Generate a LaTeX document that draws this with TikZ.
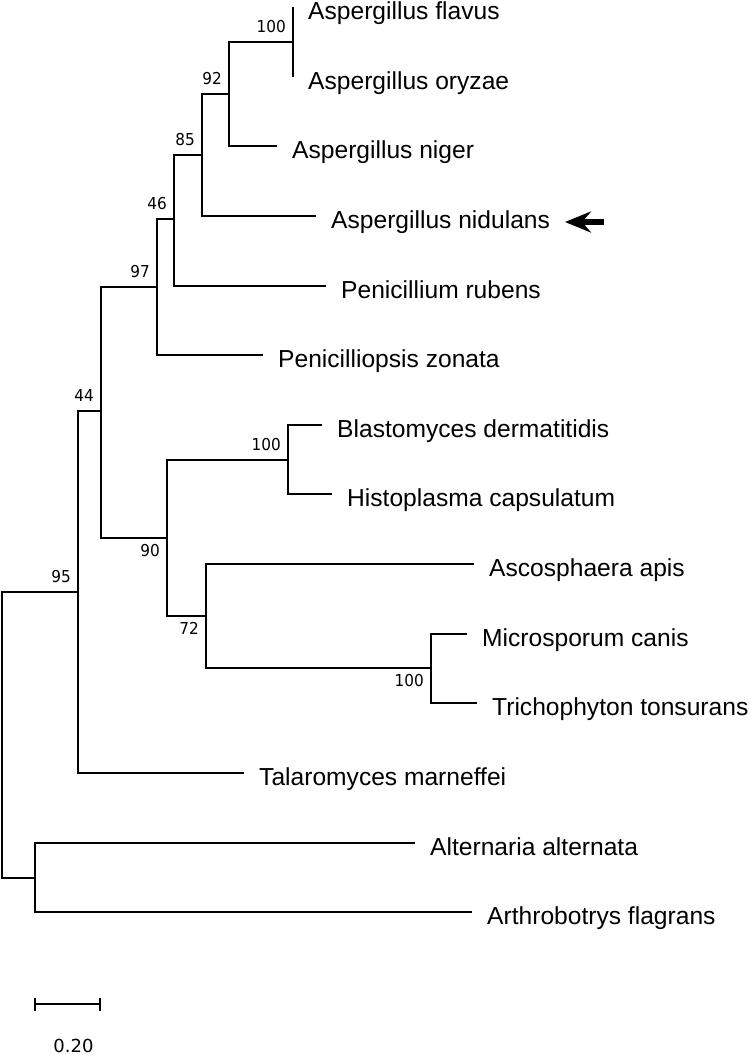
\documentclass[tikz,border=0pt]{standalone}
\usepackage{fontspec}
\setmainfont{Liberation Sans}
\newfontfamily\bootfont[FakeStretch=0.93]{DejaVu Sans}
\newfontfamily\scalefont{DejaVu Sans}
\usetikzlibrary{arrows.meta}

\tikzset{
  branch/.style={line width=1.6pt},
  taxon/.style={anchor=base west, inner sep=0pt, xshift=15pt, yshift=-12pt,
    font=\fontsize{24.6pt}{29pt}\selectfont},
  bootup/.style={anchor=base east, inner sep=0pt, xshift=-7pt, yshift=10pt,
    font=\bootfont\fontsize{16.4pt}{19pt}\selectfont},
  bootdown/.style={bootup, yshift=-28pt},
  pointer/.style={line width=5.5pt, -{Stealth[length=26pt, width=21pt, inset=9pt]}}
}

\begin{document}
\begin{tikzpicture}[x=1pt, y=-1pt]

  \useasboundingbox (0,0) rectangle (750,1055);

  % -- Leaves --
  \coordinate (aflav) at (293,7);
  \coordinate (aoryz) at (293,77);
  \coordinate (anig)  at (277,146);
  \coordinate (anid)  at (316,216);
  \coordinate (prub)  at (326,286);
  \coordinate (pzon)  at (263,355);
  \coordinate (bder)  at (322,425);
  \coordinate (hcap)  at (332,494);
  \coordinate (aapi)  at (474,564);
  \coordinate (mcan)  at (467,634);
  \coordinate (tton)  at (477,703);
  \coordinate (tmar)  at (244,773);
  \coordinate (aalt)  at (415,843);
  \coordinate (aflag) at (472,912);

  % -- Internal nodes --
  \coordinate (cFlavOry) at (293,42);
  \coordinate (cAsp92)   at (229,94);
  \coordinate (cAsp85)   at (202,155);
  \coordinate (cAsp46)   at (174,219);
  \coordinate (cPen97)   at (157,287);
  \coordinate (cBlHi)    at (288,460);
  \coordinate (cMcTt)    at (431,668);
  \coordinate (cOny72)   at (206,616);
  \coordinate (cOny90)   at (167,538);
  \coordinate (cEur44)   at (101,411);
  \coordinate (cEur95)   at (78,592);
  \coordinate (cOut)     at (35,878);
  \coordinate (root)     at (2,735);

  % -- Branches --
  \draw[branch] (root) |- (cEur95);
  \draw[branch] (root) |- (cOut);
  \draw[branch] (cEur95) |- (cEur44);
  \draw[branch] (cEur95) |- (tmar);
  \draw[branch] (cEur44) |- (cPen97);
  \draw[branch] (cEur44) |- (cOny90);
  \draw[branch] (cPen97) |- (cAsp46);
  \draw[branch] (cPen97) |- (pzon);
  \draw[branch] (cAsp46) |- (cAsp85);
  \draw[branch] (cAsp46) |- (prub);
  \draw[branch] (cAsp85) |- (cAsp92);
  \draw[branch] (cAsp85) |- (anid);
  \draw[branch] (cAsp92) |- (cFlavOry);
  \draw[branch] (cAsp92) |- (anig);
  \draw[branch] (cFlavOry) -- (aflav);
  \draw[branch] (cFlavOry) -- (aoryz);
  \draw[branch] (cOny90) |- (cBlHi);
  \draw[branch] (cOny90) |- (cOny72);
  \draw[branch] (cBlHi) |- (bder);
  \draw[branch] (cBlHi) |- (hcap);
  \draw[branch] (cOny72) |- (aapi);
  \draw[branch] (cOny72) |- (cMcTt);
  \draw[branch] (cMcTt) |- (mcan);
  \draw[branch] (cMcTt) |- (tton);
  \draw[branch] (cOut) |- (aalt);
  \draw[branch] (cOut) |- (aflag);

  % -- Taxa --
  \node[taxon] (taflav) at (aflav) {Aspergillus flavus};
  \node[taxon] (taoryz) at (aoryz) {Aspergillus oryzae};
  \node[taxon] (tanig)  at (anig)  {Aspergillus niger};
  \node[taxon] (tanid)  at (anid)  {Aspergillus nidulans};
  \node[taxon] (tprub)  at (prub)  {Penicillium rubens};
  \node[taxon] (tpzon)  at (pzon)  {Penicilliopsis zonata};
  \node[taxon] (tbder)  at (bder)  {Blastomyces dermatitidis};
  \node[taxon] (thcap)  at (hcap)  {Histoplasma capsulatum};
  \node[taxon] (taapi)  at (aapi)  {Ascosphaera apis};
  \node[taxon] (tmcan)  at (mcan)  {Microsporum canis};
  \node[taxon] (ttton)  at (tton)  {Trichophyton tonsurans};
  \node[taxon] (ttmar)  at (tmar)  {Talaromyces marneffei};
  \node[taxon] (taalt)  at (aalt)  {Alternaria alternata};
  \node[taxon] (taflag) at (aflag) {Arthrobotrys flagrans};

  % -- Bootstrap values --
  \node[bootup] (bFlavOry) at (cFlavOry) {100};
  \node[bootup] (bAsp92)   at (cAsp92)   {92};
  \node[bootup] (bAsp85)   at (cAsp85)   {85};
  \node[bootup] (bAsp46)   at (cAsp46)   {46};
  \node[bootup] (bPen97)   at (cPen97)   {97};
  \node[bootup] (bEur44)   at (cEur44)   {44};
  \node[bootup] (bEur95)   at (cEur95)   {95};
  \node[bootup] (bBlHi)    at (cBlHi)    {100};
  \node[bootdown] (bOny90) at (cOny90)   {90};
  \node[bootdown] (bOny72) at (cOny72)   {72};
  \node[bootdown] (bMcTt)  at (cMcTt)    {100};

  % -- Marker for A. nidulans --
  \coordinate (arrtail) at (604,222);
  \coordinate (arrtip)  at (565,222);
  \draw[pointer] (arrtail) -- (arrtip);

  % -- Scale bar --
  \coordinate (sb0) at (35,1004);
  \coordinate (sb1) at (100,1004);
  \draw[branch] (sb0) -- (sb1);
  \draw[branch] ([yshift=6.5pt]sb0) -- ([yshift=-6.5pt]sb0);
  \draw[branch] ([yshift=6.5pt]sb1) -- ([yshift=-6.5pt]sb1);
  \node[font=\scalefont\fontsize{18pt}{22pt}\selectfont, inner sep=0pt] (sblab) at (73.5,1046) {0.20};

\end{tikzpicture}
\end{document}
